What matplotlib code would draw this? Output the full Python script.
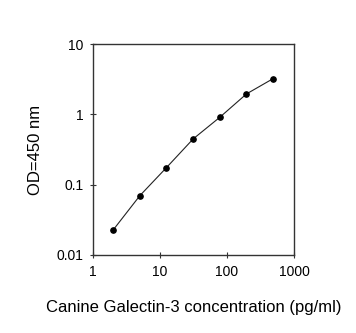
import numpy as np
import matplotlib
matplotlib.use('Agg')
import matplotlib.pyplot as plt
from matplotlib.ticker import FixedLocator, FixedFormatter, NullLocator

plt.rcParams['font.family'] = ['Liberation Sans', 'DejaVu Sans']

# standard curve
conc = [2.0, 5.0, 12.5, 31.25, 78.1, 195.3, 488.3]
od = [0.0227, 0.0697, 0.175, 0.447, 0.908, 1.95, 3.22]

x_ticks = [1, 10, 100, 1000]
x_labels = ['1', '10', '100', '1000']
y_ticks = [0.01, 0.1, 1, 10]
y_labels = ['0.01', '0.1', '1', '10']

fig = plt.figure(figsize=(3.56, 3.33), dpi=100)
ax = fig.add_axes([93/356, 1 - 255/333, (294-93)/356, (255-44)/333])

ax.plot(conc, od, color='#222222', lw=0.8, marker='o', ms=3.8, mfc='black', mec='black')
ax.set_xscale('log')
ax.set_yscale('log')
ax.set_xlim(1, 1000)
ax.set_ylim(0.01, 10)

ax.xaxis.set_major_locator(FixedLocator(x_ticks))
ax.xaxis.set_major_formatter(FixedFormatter(x_labels))
ax.yaxis.set_major_locator(FixedLocator(y_ticks))
ax.yaxis.set_major_formatter(FixedFormatter(y_labels))
ax.xaxis.set_minor_locator(NullLocator())
ax.yaxis.set_minor_locator(NullLocator())
ax.tick_params(direction='inout', length=4, width=0.8, labelsize=10, pad=5, color='#333333')

for s in ax.spines.values():
    s.set_linewidth(1.0)
    s.set_color('#333333')

ax.set_xlabel('Canine Galectin-3 concentration (pg/ml)', fontsize=12, labelpad=15)
ax.set_ylabel('OD=450 nm', fontsize=12, labelpad=10)

fig.savefig('out.png', dpi=100)
